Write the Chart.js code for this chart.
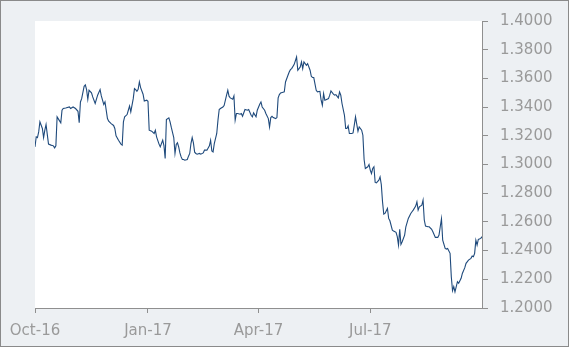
<!DOCTYPE html>
<html>
<head>
<meta charset="utf-8">
<script src="https://cdn.jsdelivr.net/npm/chart.js@4/dist/chart.umd.min.js"></script>
<style>
  html, body { margin: 0; padding: 0; background: #edf0f3; }
  #wrap { width: 569px; height: 347px; }
</style>
</head>
<body>
<div id="wrap"><canvas id="grafico" width="569" height="347"></canvas></div>
<script>
// days since 1 Oct 2016
var dias = [0,1,2,3,4,6,7,8,9,11,13,15,16,17,18,20,21,22,23,25,28,29,31,33,35,36,37,38,40,41,42,43,44,46,47,49,51,53,54,56,57,59,60,62,64,65,66,68,70,71,72,73,75,76,77,78,80,81,82,83,84,85,86,88,89,91,92,93,95,97,98,99,101,102,103,104,105,106,107,109,110,111,113,114,115,116,117,118,119,120,121,122,124,125,126,127,128,129,130,131,132,134,135,137,138,140,142,143,144,145,146,148,149,150,151,153,154,156,157,158,159,161,162,163,164,165,167,168,169,171,173,174,176,177,178,180,181,183,184,185,187,188,190,191,192,193,194,196,197,198,199,200,202,203,204,206,207,208,209,211,213,214,216,217,218,219,221,222,224,225,226,227,229,230,232,233,234,235,236,237,239,240,241,243,244,245,247,248,249,250,252,253,254,255,256,258,259,260,261,262,263,264,266,267,268,269,271,272,273,274,275,276,277,278,280,281,282,283,284,285,287,288,289,291,292,294,295,296,297,298,299,301,302,304,306,307,308,310,311,312,313,315,316,317,318,320,321,323,324,326,328,329,330,331,332,334,335,336,338,339,340,341,342,344,345,347,348,350,351,353,355,356,357,358,359,360,361,363,364];

var cotacao = [1.3123,1.3193,1.3188,1.3227,1.3297,1.3251,1.3188,1.3239,1.3278,1.3142,1.3135,1.3130,1.3116,1.3130,1.3332,1.3304,1.3290,1.3378,1.3390,1.3394,
  1.3401,1.3390,1.3401,1.3390,1.3371,1.3292,1.3436,1.3459,1.3545,1.3555,1.3522,1.3455,1.3517,1.3499,1.3471,1.3425,1.3483,1.3522,1.3478,1.3418,
  1.3436,1.3320,1.3302,1.3285,1.3272,1.3251,1.3200,1.3169,1.3142,1.3135,1.3297,1.3332,1.3348,1.3378,1.3408,1.3367,1.3459,1.3529,1.3522,1.3510,
  1.3524,1.3575,1.3536,1.3490,1.3443,1.3448,1.3441,1.3239,1.3232,1.3216,1.3239,1.3193,1.3142,1.3123,1.3146,1.3169,1.3132,1.3042,1.3313,1.3325,
  1.3297,1.3258,1.3188,1.3077,1.3139,1.3151,1.3123,1.3081,1.3053,1.3035,1.3035,1.3030,1.3035,1.3058,1.3077,1.3146,1.3188,1.3151,1.3086,1.3077,
  1.3072,1.3077,1.3072,1.3081,1.3100,1.3100,1.3130,1.3169,1.3095,1.3088,1.3146,1.3216,1.3309,1.3383,1.3390,1.3401,1.3411,1.3483,1.3517,1.3476,
  1.3464,1.3455,1.3478,1.3309,1.3355,1.3355,1.3350,1.3355,1.3336,1.3383,1.3378,1.3383,1.3343,1.3332,1.3360,1.3332,1.3378,1.3420,1.3436,1.3401,
  1.3378,1.3355,1.3320,1.3262,1.3327,1.3336,1.3327,1.3320,1.3327,1.3464,1.3487,1.3499,1.3504,1.3506,1.3575,1.3622,1.3645,1.3661,1.3668,1.3696,
  1.3749,1.3657,1.3680,1.3715,1.3668,1.3715,1.3691,1.3703,1.3657,1.3615,1.3606,1.3606,1.3517,1.3506,1.3510,1.3448,1.3413,1.3494,1.3448,1.3452,
  1.3459,1.3483,1.3513,1.3490,1.3483,1.3487,1.3464,1.3506,1.3483,1.3425,1.3343,1.3251,1.3251,1.3269,1.3216,1.3216,1.3220,1.3274,1.3332,1.3281,
  1.3232,1.3262,1.3239,1.3204,1.3035,1.2972,1.2984,1.3000,1.2961,1.2937,1.2972,1.2984,1.2875,1.2872,1.2891,1.2914,1.2861,1.2740,1.2654,1.2659,
  1.2694,1.2624,1.2608,1.2543,1.2536,1.2527,1.2497,1.2439,1.2548,1.2443,1.2462,1.2508,1.2566,1.2624,1.2659,1.2671,1.2682,1.2710,1.2740,1.2682,
  1.2705,1.2717,1.2752,1.2613,1.2571,1.2566,1.2566,1.2548,1.2531,1.2492,1.2492,1.2508,1.2566,1.2622,1.2473,1.2415,1.2411,1.2415,1.2381,1.2218,
  1.2121,1.2149,1.2112,1.2183,1.2172,1.2207,1.2241,1.2281,1.2311,1.2334,1.2346,1.2362,1.2357,1.2381,1.2473,1.2439,1.2478,1.2485,1.2497];

var diasRotulo = [0, 92, 182, 273];
var rotulos = ['Oct-16', 'Jan-17', 'Apr-17', 'Jul-17'];

var pontos = [];
for (var i = 0; i < dias.length; i++) {
    pontos.push({x: dias[i], y: cotacao[i]});
}

var cinza = '#9a9a9a';
var linhaEixo = '#8f8f8f';

var fundo = {
    id: 'fundo',
    beforeDraw: function(chart) {
        var ctx = chart.ctx, a = chart.chartArea;
        ctx.save();
        ctx.fillStyle = '#edf0f3';
        ctx.fillRect(0, 0, chart.width, chart.height);
        ctx.fillStyle = '#ffffff';
        ctx.fillRect(a.left, a.top, a.right - a.left, a.bottom - a.top);
        ctx.strokeStyle = '#8a8a8a';
        ctx.lineWidth = 1;
        ctx.strokeRect(0.5, 0.5, chart.width - 1, chart.height - 1);
        ctx.restore();
    }
};

var grafico = new Chart('grafico', {
    type: 'line',
    data: {
        datasets: [{
            data: pontos,
            borderColor: '#1f4a7c',
            borderWidth: 1.1,
            pointRadius: 0,
            tension: 0,
            fill: false
        }]
    },
    options: {
        responsive: false,
        animation: false,
        layout: { padding: { left: 35, top: 20, right: 0, bottom: 0 } },
        plugins: { legend: { display: false }, tooltip: { enabled: false } },
        scales: {
            x: {
                type: 'linear',
                min: 0,
                max: 364,
                afterBuildTicks: function(scale) {
                    scale.ticks = diasRotulo.map(function(v) { return {value: v}; });
                },
                afterFit: function(scale) { scale.height = 39; },
                grid: { drawOnChartArea: false, drawTicks: true, tickLength: 5, color: linhaEixo },
                border: { display: true, color: linhaEixo },
                ticks: {
                    autoSkip: false,
                    maxRotation: 0,
                    padding: 9,
                    color: cinza,
                    font: { family: 'DejaVu Sans', size: 15 },
                    callback: function(v) {
                        var k = diasRotulo.indexOf(v);
                        return k >= 0 ? rotulos[k] : '';
                    }
                }
            },
            y: {
                position: 'right',
                min: 1.2,
                max: 1.4,
                afterFit: function(scale) { scale.width = 87; },
                grid: { drawOnChartArea: false, drawTicks: true, tickLength: 6, color: linhaEixo },
                border: { display: true, color: linhaEixo },
                ticks: {
                    stepSize: 0.02,
                    padding: 12,
                    color: cinza,
                    font: { family: 'DejaVu Sans', size: 15 },
                    callback: function(v) { return Number(v).toFixed(4); }
                }
            }
        }
    },
    plugins: [fundo]
});
</script>
</body>
</html>
